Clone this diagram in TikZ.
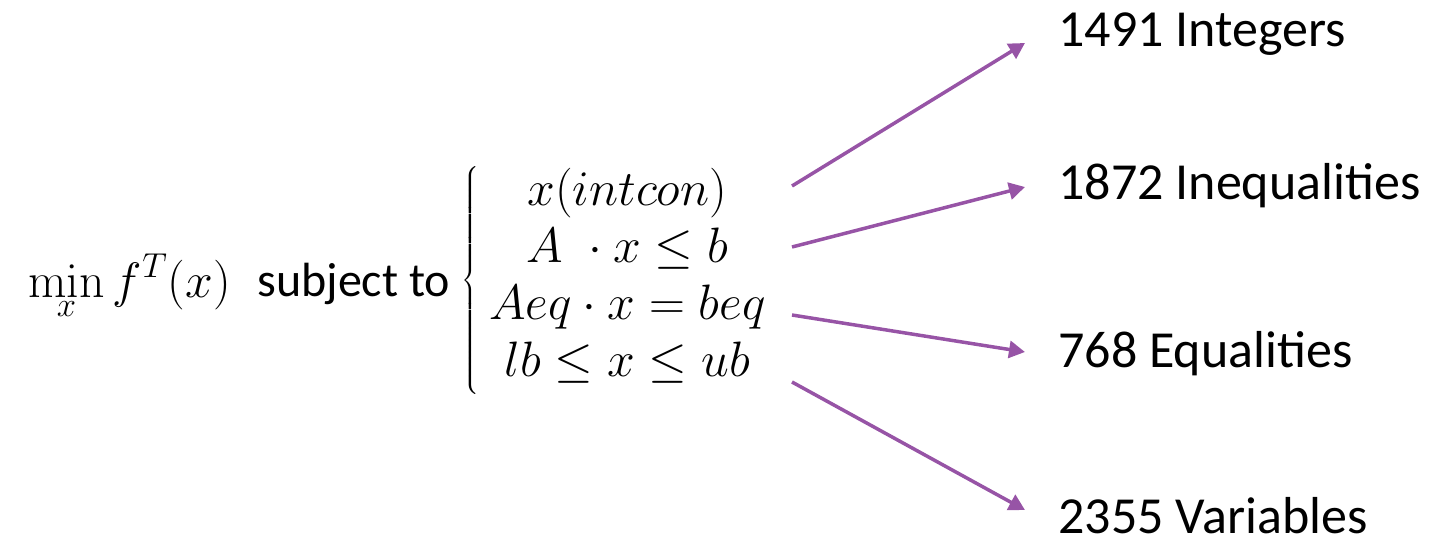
\documentclass[tikz,border=0pt]{standalone}
\usepackage[no-math]{fontspec}
\setmainfont{Carlito}
\usetikzlibrary{arrows.meta}
\definecolor{arrowpurple}{RGB}{151,84,166}
\begin{document}
\begin{tikzpicture}[x=0.5pt,y=-0.5pt,
  lab/.style={anchor=base west,inner sep=0pt,font=\fontsize{26}{30}\selectfont},
  conn/.style={draw=arrowpurple,line width=1.75pt,-{Triangle[length=8pt,width=8.5pt]}}]
\useasboundingbox (0,0) rectangle (1437,540);
\node[anchor=base west,inner sep=0pt,font=\fontsize{26}{30}\selectfont] (obj) at (28,298) {$\displaystyle\min_{x} f^{T}(x)$};
\node[anchor=base west,inner sep=0pt,font=\fontsize{24}{28}\selectfont] (st) at (257,296) {subject to};
\node[anchor=west,inner sep=0pt,font=\fontsize{26}{28.5}\selectfont] (cons) at (461,280)
  {$\left\{\begin{array}{c} x(intcon)\\ A\;\cdot x\le b\\ Aeq\cdot x=beq\\ lb\le x\le ub\end{array}\right.$};
\node[lab] (l1) at (1058,47) {1491 Integers};
\node[lab] (l2) at (1058,200) {1872 Inequalities};
\node[lab] (l3) at (1058,367) {768 Equalities};
\node[lab] (l4) at (1058,533) {2355 Variables};
\coordinate (s1) at (792,186);
\coordinate (s2) at (792,247);
\coordinate (s3) at (792,315);
\coordinate (s4) at (792,382);
\coordinate (e1) at (1025,43);
\coordinate (e2) at (1025,187);
\coordinate (e3) at (1025,352);
\coordinate (e4) at (1025,510);
\draw[conn] (s1) -- (e1);
\draw[conn] (s2) -- (e2);
\draw[conn] (s3) -- (e3);
\draw[conn] (s4) -- (e4);
\end{tikzpicture}
\end{document}
